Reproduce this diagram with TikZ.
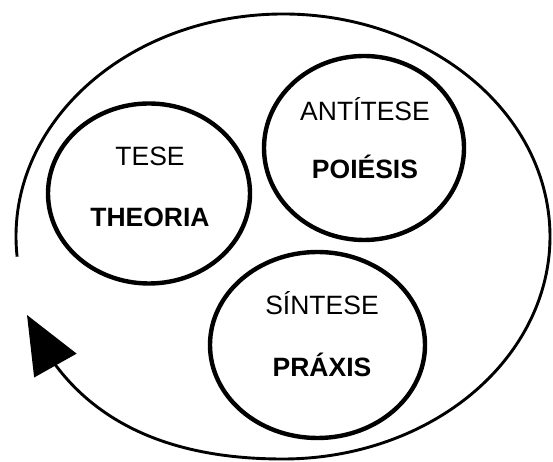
\documentclass[tikz,border=0pt]{standalone}
\usepackage{fontspec}
\setmainfont{Liberation Sans}
\usetikzlibrary{shapes.geometric, arrows.meta, bending}

\begin{document}
\begin{tikzpicture}[x=1pt, y=1pt,
  phase/.style={draw, line width=4.4pt, ellipse, inner sep=0pt},
  term/.style={font=\fontsize{26.5}{30}\selectfont, anchor=base, inner sep=0pt},
  keyword/.style={font=\fontsize{26.5}{30}\selectfont\bfseries, anchor=base, inner sep=0pt},
  cycleline/.style={line width=2.9pt, -{Triangle[length=58pt, width=48pt, flex]}}
]
\useasboundingbox (0,0) rectangle (553,462);

% the three moments of the dialectic
\node[phase, minimum width=202pt, minimum height=180pt] (tese) at (149,268.5) {};
\node[phase, minimum width=200pt, minimum height=184pt] (antitese) at (364,314) {};
\node[phase, minimum width=215pt, minimum height=186pt] (sintese) at (317.5,117) {};

\node[term]    (teseA)     at (150,296) {TESE};
\node[keyword] (teseB)     at (150,235) {THEORIA};
\node[term]    (antiteseA) at (365,341) {ANTÍTESE};
\node[keyword] (antiteseB) at (365,283) {POIÉSIS};
\node[term]    (sinteseA)  at (322,147) {SÍNTESE};
\node[keyword] (sinteseB)  at (322,85)  {PRÁXIS};

% the enclosing cycle, open on the left: over the top, down the right,
% then swinging back up to the arrow tip
\coordinate (cyclecentre) at (283,225.5);
\coordinate (cycletip) at (27,147);
\draw[cycleline] (cyclecentre) ++(185.2:267 and 222.5)
  arc[start angle=185.2, end angle=-90, x radius=267, y radius=222.5]
  .. controls (200,3) and (80,22) .. (cycletip);
\end{tikzpicture}
\end{document}
